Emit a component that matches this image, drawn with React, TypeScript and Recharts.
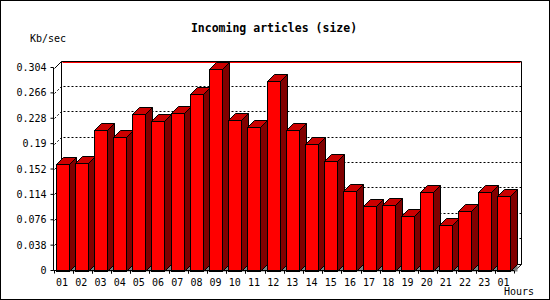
import { Bar, BarChart, CartesianGrid, XAxis, YAxis } from "recharts"

const HOURS = ["01", "02", "03", "04", "05", "06", "07", "08", "09", "10", "11", "12", "13", "14", "15", "16", "17", "18", "19", "20", "21", "22", "23", "01"]
const KBPS = [0.16, 0.1615, 0.211, 0.2005, 0.235, 0.2245, 0.2365, 0.265, 0.3025, 0.226, 0.2155, 0.2845, 0.211, 0.19, 0.1645, 0.1195, 0.097, 0.0985, 0.082, 0.118, 0.0685, 0.0895, 0.118, 0.111]
const Y_TICKS = [0, 0.038, 0.076, 0.114, 0.152, 0.19, 0.228, 0.266, 0.304]

const data = HOURS.map((hour, i) => ({ hour, kbps: KBPS[i] }))

const DEPTH = 7
const FONT = "'DejaVu Sans Mono', monospace"

// 3D bar: front face, top and right side, grey floor wedge
function Bar3D(props: any) {
  const { x, y, width, height } = props
  if (height == null || height <= 0) return null
  const d = DEPTH
  const L = Math.round(x - 1) + 0.5
  const T = Math.round(y) + 0.5
  const B = Math.round(y + height) + 0.5
  const R = L + Math.round(width)
  return (
    <g stroke="#000" strokeWidth={1}>
      <polygon points={`${R},${B} ${R + d},${B - d} ${R + d},${B}`} fill="#808080" stroke="none" />
      <polygon points={`${R},${T} ${R + d},${T - d} ${R + d},${B - d} ${R},${B}`} fill="#800000" />
      <polygon points={`${L},${T} ${L + d},${T - d} ${R + d},${T - d} ${R},${T}`} fill="#cc0000" />
      <rect x={L} y={T} width={R - L} height={B - T} fill="#ff0000" />
    </g>
  )
}

// back wall, floor and dotted grid lines
function gridLine(p: any) {
  const { x1, y1, x2, index, y, height } = p
  const d = DEPTH
  const L = Math.round(x1) + 0.5
  const R = Math.round(x2) + 0.5
  const T = Math.round(y) + 0.5
  const yy = Math.round(y1) + 0.5
  if (Math.abs(y1 - y) < 0.5) {
    return (
      <g key={`g-${index}`} fill="none">
        <line x1={L + d} y1={T - d} x2={R + d} y2={T - d} stroke="#000" />
        <line x1={L + d + 1} y1={T - d + 1} x2={R + d - 1} y2={T - d + 1} stroke="#ff0000" />
        <line x1={L} y1={T} x2={L + d} y2={T - d} stroke="#000" />
      </g>
    )
  }
  if (Math.abs(y1 - (y + height)) < 0.5) {
    // floor line: wall sides run from the top down to here
    return (
      <g key={`g-${index}`} fill="none">
        <line x1={L + d} y1={T - d} x2={L + d} y2={yy - d} stroke="#000" />
        <line x1={R + d} y1={T - d} x2={R + d} y2={yy - d} stroke="#000" />
        <line x1={L + d} y1={yy - d} x2={R + d} y2={yy - d} stroke="#000" />
        <line x1={L} y1={yy} x2={L + d} y2={yy - d} stroke="#000" />
        <line x1={R - 0.5} y1={yy} x2={R + d} y2={yy - d} stroke="#000" />
      </g>
    )
  }
  return (
    <g key={`g-${index}`}>
      <line x1={L + d + 2} y1={yy - d} x2={R + d} y2={yy - d} stroke="#000" strokeDasharray="2 2" />
      <line x1={L} y1={yy} x2={L + d} y2={yy - d} stroke="#000" strokeDasharray="2 2" />
    </g>
  )
}

function HourTick(props: any) {
  const { x, y, payload, width, visibleTicksCount } = props
  const half = payload.offset || width / visibleTicksCount / 2
  const l = Math.round(x - half) + 0.5
  const r = Math.round(x + half) + 0.5
  return (
    <g>
      <line x1={l} y1={y - 3} x2={l} y2={y} stroke="#000" />
      <line x1={r} y1={y - 3} x2={r} y2={y} stroke="#000" />
      <text x={x - 1} y={y} dy={12} textAnchor="middle" fill="#000" fontSize={10} fontFamily={FONT}>
        {payload.value}
      </text>
    </g>
  )
}

export default function App() {
  return (
    <div style={{ position: "absolute", left: 0, top: 0, width: 550, height: 300, background: "#fff" }}>
      <BarChart width={550} height={300} data={data} margin={{ top: 67.5, right: 36, bottom: 0, left: 8 }} barSize={12.5}>
        <CartesianGrid horizontal={gridLine} vertical={false} />
        <XAxis
          dataKey="hour"
          interval={0}
          height={29.5}
          tickLine={false}
          tickSize={3}
          tickMargin={0}
          axisLine={{ stroke: "#000" }}
          tick={<HourTick />}
        />
        <YAxis
          domain={[0, 0.304]}
          ticks={Y_TICKS}
          width={45.5}
          tickSize={3}
          tickMargin={4}
          axisLine={{ stroke: "#000" }}
          tickLine={{ stroke: "#000" }}
          tick={{ fill: "#000", fontSize: 10, fontFamily: FONT }}
        />
        <Bar dataKey="kbps" shape={<Bar3D />} isAnimationActive={false} />
      </BarChart>
      <div style={{ position: "absolute", left: 0, top: 22, width: 548, textAlign: "center", font: `bold 11.5px/12px ${FONT}` }}>
        Incoming articles (size)
      </div>
      <div style={{ position: "absolute", left: 30, top: 33, font: `10px/12px ${FONT}` }}>Kb/sec</div>
      <div style={{ position: "absolute", left: 504, top: 286, font: `10px/12px ${FONT}` }}>Hours</div>
      <div style={{ position: "absolute", left: 0, top: 0, width: 550, height: 300, border: "1px solid #000", boxSizing: "border-box", pointerEvents: "none" }} />
    </div>
  )
}
